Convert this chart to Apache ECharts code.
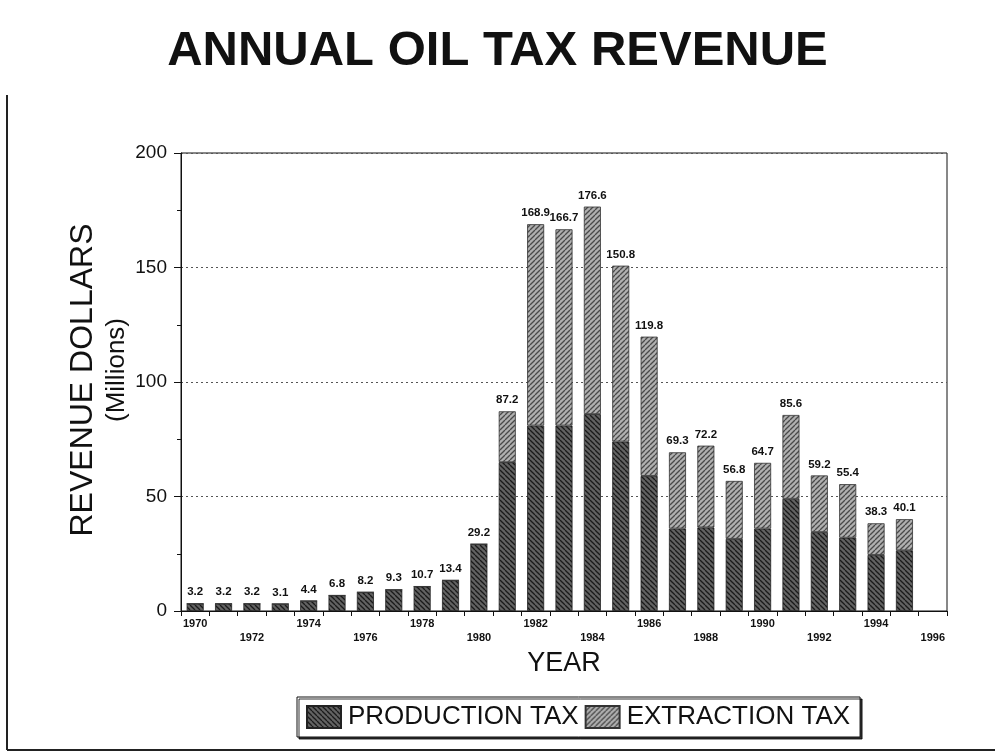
<!DOCTYPE html>
<html>
<head>
<meta charset="utf-8">
<script src="https://cdn.jsdelivr.net/npm/echarts@6/dist/echarts.min.js"></script>
<style>
  html, body { margin: 0; padding: 0; background: #fff; }
  #chart { width: 995px; height: 753px; }
</style>
</head>
<body>
<div id="chart"></div>
<script>
// data
const years = ['1970', '1971', '1972', '1973', '1974', '1975', '1976', '1977', '1978', '1979',
  '1980', '1981', '1982', '1983', '1984', '1985', '1986', '1987', '1988', '1989',
  '1990', '1991', '1992', '1993', '1994', '1995', '1996']
const totals = [3.2, 3.2, 3.2, 3.1, 4.4, 6.8, 8.2, 9.3, 10.7, 13.4,
  29.2, 87.2, 168.9, 166.7, 176.6, 150.8, 119.8, 69.3, 72.2, 56.8,
  64.7, 85.6, 59.2, 55.4, 38.3, 40.1, null]
const production = [3.2, 3.2, 3.2, 3.1, 4.4, 6.8, 8.2, 9.3, 10.7, 13.4,
  29.2, 65, 81, 81, 86, 74, 59, 36, 36.5, 31.5,
  36, 49, 34.5, 32, 24.5, 26.5, null]
const extraction = [0, 0, 0, 0, 0, 0, 0, 0, 0, 0,
  0, 22.2, 87.9, 85.7, 90.6, 76.8, 60.8, 33.3, 35.7, 25.3,
  28.7, 36.6, 24.7, 23.4, 13.8, 13.6, null]
const yTicks = [0, 50, 100, 150, 200]

// hatch fills, like the scanned shading
const hatch = (bg, fg, dir) => {
  const s = 5
  const c = document.createElement('canvas')
  c.width = s
  c.height = s
  const ctx = c.getContext('2d')
  ctx.fillStyle = bg
  ctx.fillRect(0, 0, s, s)
  ctx.strokeStyle = fg
  ctx.lineWidth = 1.3
  for (let k = -1; k <= 1; k++) {
    ctx.beginPath()
    if (dir === 'back') {
      ctx.moveTo(k * s, 0)
      ctx.lineTo(k * s + s, s)
    } else {
      ctx.moveTo(k * s, s)
      ctx.lineTo(k * s + s, 0)
    }
    ctx.stroke()
  }
  return { image: c, repeat: 'repeat' }
}

const prodFill = hatch('#626262', '#1a1a1a', 'back')
const extrFill = hatch('#b0b0b0', '#4a4a4a', 'fwd')

const chart = echarts.init(document.getElementById('chart'))

const option = {
  animation: false,
  backgroundColor: '#fff',
  title: {
    text: 'ANNUAL OIL TAX REVENUE',
    left: 'center',
    top: 22,
    textStyle: {
      fontFamily: 'Liberation Sans',
      fontWeight: 'bold',
      fontSize: 49,
      color: '#111'
    }
  },
  grid: {
    left: 181,
    right: 48,
    top: 153,
    bottom: 142,
    show: true,
    borderColor: '#111',
    borderWidth: 1
  },
  legend: {
    bottom: 16,
    left: 297,
    icon: 'rect',
    itemWidth: 34,
    itemHeight: 22,
    itemGap: 6,
    padding: [7, 10, 7, 9],
    borderColor: '#111',
    borderWidth: 1,
    backgroundColor: '#fff',
    shadowColor: 'rgba(0,0,0,0.8)',
    shadowOffsetX: 2,
    shadowOffsetY: 2,
    textStyle: {
      fontFamily: 'Liberation Sans',
      fontSize: 26,
      color: '#111',
      padding: [0, 0, 0, 2]
    },
    data: ['PRODUCTION TAX', 'EXTRACTION TAX']
  },
  xAxis: {
    type: 'category',
    data: years,
    name: 'YEAR',
    nameLocation: 'middle',
    nameGap: 38,
    nameTextStyle: {
      fontFamily: 'Liberation Sans',
      fontSize: 27,
      color: '#111'
    },
    axisLine: { lineStyle: { color: '#111' } },
    axisTick: { show: true, length: 5, lineStyle: { color: '#111' } },
    axisLabel: {
      interval: 0,
      margin: 6,
      fontFamily: 'Liberation Sans',
      fontWeight: 'bold',
      fontSize: 11,
      lineHeight: 14,
      color: '#111',
      formatter: (v, i) => {
        if (i % 2) return ''
        return (i / 2) % 2 ? '\n' + v : v
      }
    }
  },
  yAxis: {
    type: 'value',
    min: yTicks[0],
    max: yTicks[yTicks.length - 1],
    interval: 50,
    axisLine: { show: true, lineStyle: { color: '#111' } },
    axisTick: { show: true, length: 7, lineStyle: { color: '#111' } },
    minorTick: { show: true, splitNumber: 2, length: 4, lineStyle: { color: '#111' } },
    axisLabel: {
      margin: 14,
      fontFamily: 'Liberation Sans',
      fontSize: 19,
      color: '#111'
    },
    splitLine: {
      show: true,
      lineStyle: { color: '#555', type: [2, 3], width: 1 }
    }
  },
  series: [
    {
      name: 'PRODUCTION TAX',
      type: 'bar',
      stack: 'tax',
      barCategoryGap: '40%',
      data: production,
      itemStyle: { color: prodFill, borderColor: '#222', borderWidth: 0.8 }
    },
    {
      name: 'EXTRACTION TAX',
      type: 'bar',
      stack: 'tax',
      data: extraction,
      itemStyle: { color: extrFill, borderColor: '#333', borderWidth: 0.8 },
      label: {
        show: true,
        position: 'top',
        distance: 5,
        fontFamily: 'Liberation Sans',
        fontWeight: 'bold',
        fontSize: 11.5,
        color: '#111',
        formatter: p => totals[p.dataIndex] == null ? '' : totals[p.dataIndex].toFixed(1)
      }
    }
  ],
  graphic: [
    // y axis title, two rotated lines
    {
      type: 'text',
      rotation: Math.PI / 2,
      x: 67,
      y: 380,
      style: {
        text: 'REVENUE DOLLARS',
        fontFamily: 'Liberation Sans',
        fontSize: 32,
        fill: '#111',
        align: 'center',
        verticalAlign: 'top'
      }
    },
    {
      type: 'text',
      rotation: Math.PI / 2,
      x: 104,
      y: 370,
      style: {
        text: '(Millions)',
        fontFamily: 'Liberation Sans',
        fontSize: 26,
        fill: '#111',
        align: 'center',
        verticalAlign: 'top'
      }
    },
    // page frame from the scan
    {
      type: 'line',
      shape: { x1: 7, y1: 95, x2: 7, y2: 750 },
      style: { stroke: '#222', lineWidth: 2 }
    },
    {
      type: 'line',
      shape: { x1: 7, y1: 750, x2: 995, y2: 750 },
      style: { stroke: '#222', lineWidth: 2 }
    }
  ]
}

chart.setOption(option)
</script>
</body>
</html>
